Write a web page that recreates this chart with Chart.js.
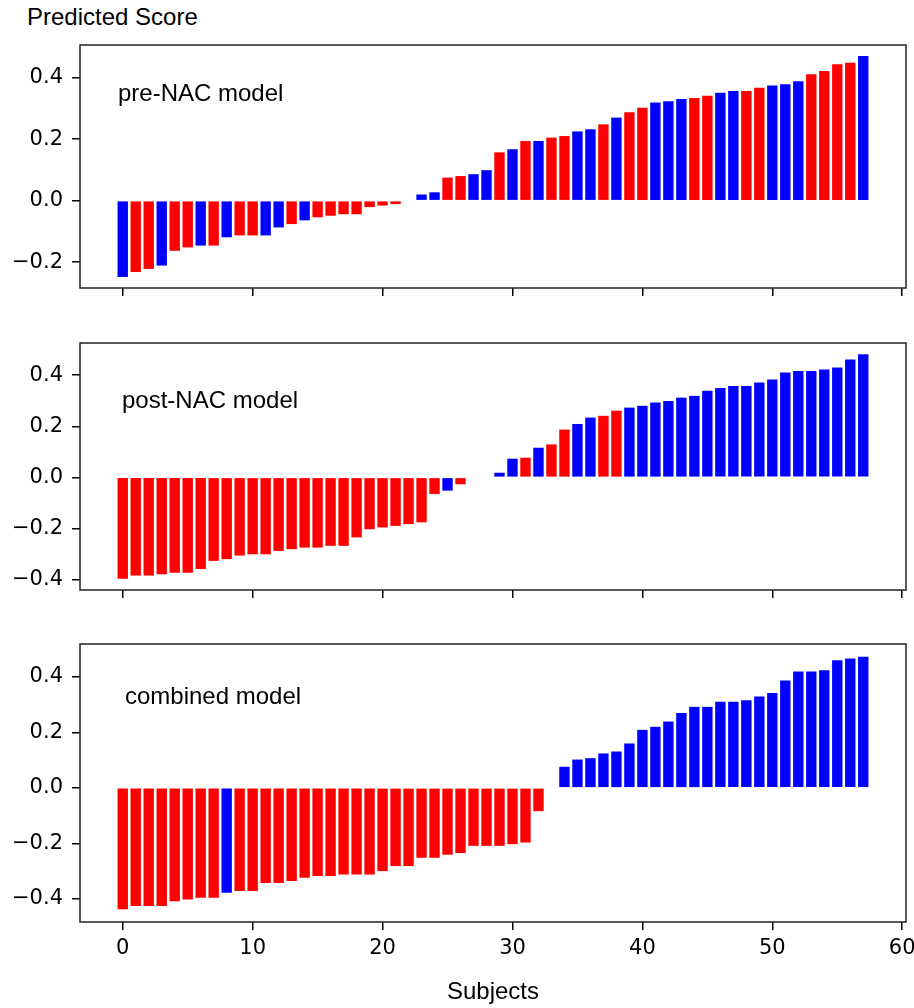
<!DOCTYPE html>
<html>
<head>
<meta charset="utf-8">
<script src="https://cdn.jsdelivr.net/npm/chart.js@4.4.1/dist/chart.umd.min.js"></script>
<style>
  html, body { margin: 0; padding: 0; background: #fff; }
  #wrap { position: relative; width: 914px; height: 1008px; overflow: hidden; }
  canvas { position: absolute; left: 0; }
  #yTitle {
    position: absolute; left: 27px; top: 3px;
    font: 24px "Liberation Sans", Arial, sans-serif; color: #000;
  }
</style>
</head>
<body>
<div id="wrap">
  <div id="yTitle">Predicted Score</div>
  <canvas id="preChart" width="914" height="310" style="top:0"></canvas>
  <canvas id="postChart" width="914" height="300" style="top:310px"></canvas>
  <canvas id="combinedChart" width="914" height="398" style="top:610px"></canvas>
</div>

<script>
// subjects are sorted by score inside each model; r = red group, b = blue group
const subjectTicks = [0, 10, 20, 30, 40, 50, 60];

const preScores = [
  -0.248, -0.232, -0.222, -0.211, -0.163, -0.152, -0.146, -0.146, -0.119, -0.113,
  -0.113, -0.113, -0.087, -0.076, -0.064, -0.054, -0.049, -0.044, -0.044, -0.021,
  -0.016, -0.011, 0.000, 0.020, 0.027, 0.075, 0.080, 0.086, 0.099, 0.157,
  0.167, 0.194, 0.194, 0.205, 0.210, 0.225, 0.232, 0.248, 0.270, 0.287,
  0.302, 0.319, 0.323, 0.330, 0.334, 0.341, 0.351, 0.356, 0.356, 0.367,
  0.374, 0.378, 0.388, 0.411, 0.421, 0.443, 0.448, 0.470
];
const preGroups = [
  "b", "r", "r", "b", "r", "r", "b", "r", "b", "r",
  "r", "b", "b", "r", "b", "r", "r", "r", "r", "r",
  "r", "r", "r", "b", "b", "r", "r", "b", "b", "r",
  "b", "r", "b", "r", "r", "b", "b", "r", "b", "r",
  "r", "b", "b", "b", "r", "r", "b", "b", "r", "r",
  "b", "b", "b", "r", "r", "r", "r", "b"
];
const preTicks = [-0.2, 0.0, 0.2, 0.4];

const postScores = [
  -0.397, -0.384, -0.384, -0.379, -0.373, -0.373, -0.359, -0.327, -0.320, -0.306,
  -0.301, -0.301, -0.288, -0.281, -0.275, -0.275, -0.268, -0.268, -0.235, -0.203,
  -0.196, -0.190, -0.183, -0.176, -0.065, -0.052, -0.027, 0.000, 0.000, 0.018,
  0.073, 0.077, 0.116, 0.129, 0.187, 0.209, 0.234, 0.241, 0.261, 0.273,
  0.280, 0.293, 0.299, 0.312, 0.319, 0.339, 0.350, 0.358, 0.358, 0.371,
  0.383, 0.410, 0.416, 0.416, 0.422, 0.430, 0.461, 0.482
];
const postGroups = [
  "r", "r", "r", "r", "r", "r", "r", "r", "r", "r",
  "r", "r", "r", "r", "r", "r", "r", "r", "r", "r",
  "r", "r", "r", "r", "r", "b", "r", "r", "r", "b",
  "b", "r", "b", "r", "r", "b", "b", "r", "r", "b",
  "b", "b", "b", "b", "b", "b", "b", "b", "b", "b",
  "b", "b", "b", "b", "b", "b", "b", "b"
];
const postTicks = [-0.4, -0.2, 0.0, 0.2, 0.4];

const combinedScores = [
  -0.438, -0.426, -0.426, -0.426, -0.409, -0.402, -0.396, -0.396, -0.378, -0.372,
  -0.372, -0.343, -0.343, -0.336, -0.324, -0.318, -0.318, -0.312, -0.312, -0.312,
  -0.300, -0.282, -0.282, -0.252, -0.252, -0.241, -0.235, -0.209, -0.209, -0.209,
  -0.203, -0.197, -0.084, 0.000, 0.076, 0.102, 0.107, 0.124, 0.131, 0.160,
  0.209, 0.220, 0.239, 0.270, 0.292, 0.292, 0.310, 0.310, 0.316, 0.329,
  0.342, 0.387, 0.419, 0.419, 0.424, 0.460, 0.466, 0.473
];
const combinedGroups = [
  "r", "r", "r", "r", "r", "r", "r", "r", "b", "r",
  "r", "r", "r", "r", "r", "r", "r", "r", "r", "r",
  "r", "r", "r", "r", "r", "r", "r", "r", "r", "r",
  "r", "r", "r", "r", "b", "b", "b", "b", "b", "b",
  "b", "b", "b", "b", "b", "b", "b", "b", "b", "b",
  "b", "b", "b", "b", "b", "b", "b", "b"
];
const combinedTicks = [-0.4, -0.2, 0.0, 0.2, 0.4];

const GROUP_COLORS = { r: "#ff0000", b: "#0000ff" };
const BAR_WIDTH = 0.8;
const TICK_FONT = { family: "DejaVu Sans", size: 21 };
const LABEL_FONT = '24px "Liberation Sans", Arial, sans-serif';

const panels = [
  { id: "preChart", label: "pre-NAC model", scores: preScores, groups: preGroups, yTicks: preTicks,
    padTop: 45, xAxisHeight: 22, labelDx: 38, labelDy: 56, showX: false },
  { id: "postChart", label: "post-NAC model", scores: postScores, groups: postGroups, yTicks: postTicks,
    padTop: 33, xAxisHeight: 20, labelDx: 42, labelDy: 65, showX: false },
  { id: "combinedChart", label: "combined model", scores: combinedScores, groups: combinedGroups, yTicks: combinedTicks,
    padTop: 34, xAxisHeight: 86, labelDx: 45, labelDy: 60, showX: true }
];

// box around the plot area plus the model name inside it
const framePlugin = {
  id: "frame",
  afterDraw(chart, args, opts) {
    const { ctx, chartArea: a } = chart;
    ctx.save();
    ctx.strokeStyle = "#222";
    ctx.lineWidth = 1.5;
    ctx.strokeRect(a.left, a.top, a.right - a.left, a.bottom - a.top);
    ctx.fillStyle = "#000";
    ctx.font = LABEL_FONT;
    ctx.textBaseline = "alphabetic";
    ctx.fillText(opts.text, a.left + opts.dx, a.top + opts.dy);
    ctx.restore();
  }
};

function formatTick(v) {
  return (v < 0 ? "\u2212" : "") + Math.abs(v).toFixed(1);
}

function buildPanel(p) {
  const n = p.scores.length;
  const lo = Math.min(0, ...p.scores);
  const hi = Math.max(0, ...p.scores);
  const yMargin = 0.05 * (hi - lo);
  const xMargin = 0.05 * (n - 1 + BAR_WIDTH);

  const axisGrid = {
    offset: false,
    drawOnChartArea: false,
    drawTicks: true,
    tickLength: 8,
    color: "#000",
    lineWidth: 1.5
  };

  return new Chart(document.getElementById(p.id), {
    type: "bar",
    data: {
      datasets: [{
        data: p.scores.map((v, i) => ({ x: i, y: v })),
        backgroundColor: p.groups.map(g => GROUP_COLORS[g]),
        borderWidth: 0,
        barPercentage: BAR_WIDTH,
        categoryPercentage: 1.0
      }]
    },
    options: {
      responsive: false,
      animation: false,
      events: [],
      layout: { padding: { top: p.padTop, right: 8, bottom: 0, left: 0 } },
      scales: {
        x: {
          type: "linear",
          offset: false,
          bounds: "data",
          min: -BAR_WIDTH / 2 - xMargin,
          max: n - 1 + BAR_WIDTH / 2 + xMargin,
          afterBuildTicks: axis => { axis.ticks = subjectTicks.map(v => ({ value: v })); },
          afterFit: axis => {
            axis.height = p.xAxisHeight;
            axis.paddingLeft = 0;
            axis.paddingRight = 0;
          },
          grid: axisGrid,
          border: { display: false },
          ticks: {
            display: p.showX,
            color: "#000",
            font: TICK_FONT,
            padding: 6,
            maxRotation: 0,
            autoSkip: false
          },
          title: {
            display: p.showX,
            text: "Subjects",
            color: "#000",
            font: { family: "Liberation Sans", size: 24 },
            padding: { top: 0, bottom: 1 }
          }
        },
        y: {
          type: "linear",
          bounds: "data",
          min: lo - yMargin,
          max: hi + yMargin,
          afterBuildTicks: axis => { axis.ticks = p.yTicks.map(v => ({ value: v })); },
          afterFit: axis => {
            axis.width = 80;
            axis.paddingTop = 0;
            axis.paddingBottom = 0;
          },
          grid: axisGrid,
          border: { display: false },
          ticks: {
            color: "#000",
            font: TICK_FONT,
            padding: 9,
            autoSkip: false,
            callback: v => formatTick(v)
          }
        }
      },
      plugins: {
        legend: { display: false },
        tooltip: { enabled: false },
        frame: { text: p.label, dx: p.labelDx, dy: p.labelDy }
      }
    },
    plugins: [framePlugin]
  });
}

panels.forEach(buildPanel);
</script>
</body>
</html>
